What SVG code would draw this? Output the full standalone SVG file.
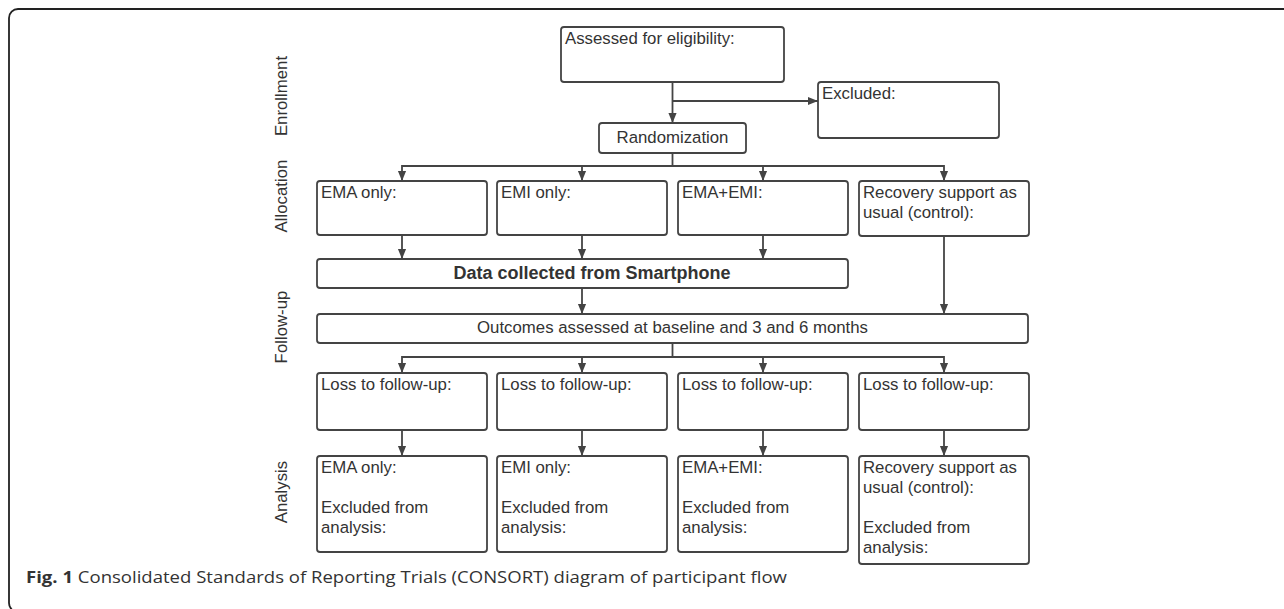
<svg xmlns="http://www.w3.org/2000/svg" width="1284" height="609" viewBox="0 0 1284 609">
<style>
.bx{fill:#fff;stroke:#444;stroke-width:1.8}
.t{font-family:"Liberation Sans",Arial,sans-serif;font-size:16.8px;fill:#333}
.c{text-anchor:middle}
.b{font-weight:bold;font-size:18px}
.cn{fill:none;stroke:#444;stroke-width:1.8}
.cap{font-family:"Open Sans","Noto Sans",sans-serif;font-size:16.5px;fill:#333}
</style>
<defs>
<marker id="ah" markerUnits="userSpaceOnUse" markerWidth="10" markerHeight="11" refX="11" refY="5" orient="auto" viewBox="0 0 11 10">
<path d="M0,0.5 L11,5 L0,9.5 z" fill="#444"/>
</marker>
</defs>
<rect x="9" y="9" width="1300" height="603" rx="9" fill="none" stroke="#222" stroke-width="1.8"/>
<g id="labels">
<text class="t c" transform="translate(287,96) rotate(-90)">Enrollment</text>
<text class="t c" transform="translate(287,196) rotate(-90)">Allocation</text>
<text class="t c" transform="translate(287,327) rotate(-90)">Follow-up</text>
<text class="t c" transform="translate(287,492) rotate(-90)">Analysis</text>
</g>
<g id="connectors">
<path class="cn" d="M672.5 82 V123" marker-end="url(#ah)"/>
<path class="cn" d="M672.5 101 H818" marker-end="url(#ah)"/>
<path class="cn" d="M672.5 153 V166 H402 V181" marker-end="url(#ah)"/>
<path class="cn" d="M672.5 166 H582 V181" marker-end="url(#ah)"/>
<path class="cn" d="M672.5 166 H763 V181" marker-end="url(#ah)"/>
<path class="cn" d="M672.5 166 H944 V181" marker-end="url(#ah)"/>
<path class="cn" d="M402 235 V259" marker-end="url(#ah)"/>
<path class="cn" d="M582 235 V259" marker-end="url(#ah)"/>
<path class="cn" d="M763 235 V259" marker-end="url(#ah)"/>
<path class="cn" d="M944 236 V314" marker-end="url(#ah)"/>
<path class="cn" d="M582 288 V314" marker-end="url(#ah)"/>
<path class="cn" d="M672.5 343 V357 H402 V373" marker-end="url(#ah)"/>
<path class="cn" d="M672.5 357 H582 V373" marker-end="url(#ah)"/>
<path class="cn" d="M672.5 357 H763 V373" marker-end="url(#ah)"/>
<path class="cn" d="M672.5 357 H944 V373" marker-end="url(#ah)"/>
<path class="cn" d="M402 430 V456" marker-end="url(#ah)"/>
<path class="cn" d="M582 430 V456" marker-end="url(#ah)"/>
<path class="cn" d="M763 430 V456" marker-end="url(#ah)"/>
<path class="cn" d="M944 430 V456" marker-end="url(#ah)"/>
</g>
<g id="assessed"><rect class="bx" x="561" y="27" width="223" height="55" rx="3"/><text class="t" x="565" y="44">Assessed for eligibility:</text></g>
<g id="excluded"><rect class="bx" x="818" y="82" width="181" height="56" rx="3"/><text class="t" x="822" y="99">Excluded:</text></g>
<g id="randomization"><rect class="bx" x="599" y="123" width="147" height="30" rx="3"/><text class="t c" x="672.5" y="143">Randomization</text></g>
<g id="alloc-ema"><rect class="bx" x="317" y="181" width="170" height="54" rx="3"/><text class="t" x="321" y="198">EMA only:</text></g>
<g id="alloc-emi"><rect class="bx" x="497" y="181" width="170" height="54" rx="3"/><text class="t" x="501" y="198">EMI only:</text></g>
<g id="alloc-emaemi"><rect class="bx" x="678" y="181" width="170" height="54" rx="3"/><text class="t" x="682" y="198">EMA+EMI:</text></g>
<g id="alloc-control"><rect class="bx" x="859" y="181" width="170" height="55" rx="3"/><text class="t" x="863" y="198">Recovery support as</text><text class="t" x="863" y="218">usual (control):</text></g>
<g id="data"><rect class="bx" x="317" y="259" width="531" height="29" rx="3"/><text class="t c b" x="592" y="279">Data collected from Smartphone</text></g>
<g id="outcomes"><rect class="bx" x="317" y="314" width="711" height="29" rx="3"/><text class="t c" x="672.5" y="333">Outcomes assessed at baseline and 3 and 6 months</text></g>
<g id="loss-ema"><rect class="bx" x="317" y="373" width="170" height="57" rx="3"/><text class="t" x="321" y="390">Loss to follow-up:</text></g>
<g id="loss-emi"><rect class="bx" x="497" y="373" width="170" height="57" rx="3"/><text class="t" x="501" y="390">Loss to follow-up:</text></g>
<g id="loss-emaemi"><rect class="bx" x="678" y="373" width="170" height="57" rx="3"/><text class="t" x="682" y="390">Loss to follow-up:</text></g>
<g id="loss-control"><rect class="bx" x="859" y="373" width="170" height="57" rx="3"/><text class="t" x="863" y="390">Loss to follow-up:</text></g>
<g id="an-ema"><rect class="bx" x="317" y="456" width="170" height="96" rx="3"/><text class="t" x="321" y="473">EMA only:</text><text class="t" x="321" y="513">Excluded from</text><text class="t" x="321" y="533">analysis:</text></g>
<g id="an-emi"><rect class="bx" x="497" y="456" width="170" height="96" rx="3"/><text class="t" x="501" y="473">EMI only:</text><text class="t" x="501" y="513">Excluded from</text><text class="t" x="501" y="533">analysis:</text></g>
<g id="an-emaemi"><rect class="bx" x="678" y="456" width="170" height="96" rx="3"/><text class="t" x="682" y="473">EMA+EMI:</text><text class="t" x="682" y="513">Excluded from</text><text class="t" x="682" y="533">analysis:</text></g>
<g id="an-control"><rect class="bx" x="859" y="456" width="170" height="108" rx="3"/><text class="t" x="863" y="473">Recovery support as</text><text class="t" x="863" y="493">usual (control):</text><text class="t" x="863" y="533">Excluded from</text><text class="t" x="863" y="553">analysis:</text></g>
<text class="cap" x="26" y="583" textLength="761" lengthAdjust="spacingAndGlyphs"><tspan font-weight="bold">Fig. 1</tspan> Consolidated Standards of Reporting Trials (CONSORT) diagram of participant flow</text>
</svg>
